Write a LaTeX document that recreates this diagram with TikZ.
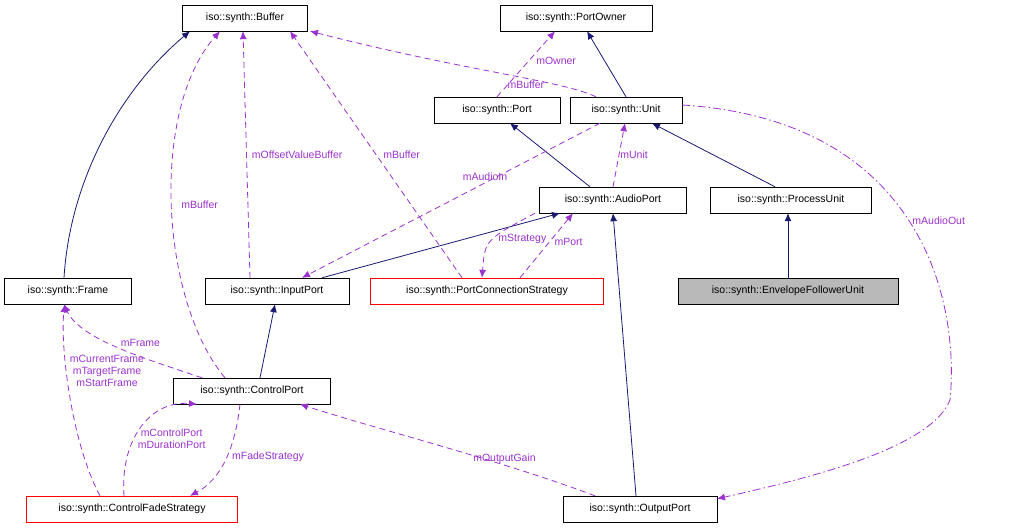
\documentclass[tikz,border=0pt]{standalone}
\usepackage{fontspec}
\setmainfont{Liberation Sans}
\usetikzlibrary{arrows.meta}
\definecolor{edgeblue}{HTML}{191970}
\definecolor{edgepurple}{HTML}{9A32CD}
\tikzset{
  cls/.style={draw,rectangle,minimum height=26pt,inner xsep=4pt,font=\fontsize{10.5}{12}\selectfont},
  usecls/.style={cls,draw=red},
  base/.style={edgeblue,line width=0.8pt,-{Latex[length=8pt,width=7pt]}},
  uses/.style={edgepurple,line width=0.8pt,dash pattern=on 6pt off 4pt,-{Latex[length=8pt,width=7pt]}},
  lbl/.style={font=\fontsize{10.5}{12}\selectfont,align=center,inner sep=1pt}
}
\begin{document}
\begin{tikzpicture}[x=1pt,y=-1pt]
\useasboundingbox (0,0) rectangle (1019,528);
% classes
\node[cls,minimum width=125pt] (buffer) at (245,18) {iso::synth::Buffer};
\node[cls,minimum width=152pt] (owner) at (576,18) {iso::synth::PortOwner};
\node[cls,minimum width=126pt] (port) at (497,110) {iso::synth::Port};
\node[cls,minimum width=112pt] (unit) at (626,110) {iso::synth::Unit};
\node[cls,minimum width=147pt] (audio) at (613,200) {iso::synth::AudioPort};
\node[cls,minimum width=161pt] (process) at (791,200) {iso::synth::ProcessUnit};
\node[cls,minimum width=127pt] (frame) at (68,291) {iso::synth::Frame};
\node[cls,minimum width=144pt] (input) at (277,291) {iso::synth::InputPort};
\node[usecls,minimum width=233pt] (strategy) at (487,291) {iso::synth::PortConnectionStrategy};
\node[cls,fill=gray!55,minimum width=220pt] (envelope) at (788,291) {iso::synth::EnvelopeFollowerUnit};
\node[cls,minimum width=157pt] (control) at (252,391) {iso::synth::ControlPort};
\node[usecls,minimum width=211pt] (fade) at (132,509) {iso::synth::ControlFadeStrategy};
\node[cls,minimum width=154pt] (output) at (640,509) {iso::synth::OutputPort};
% inheritance
\draw[base] ([xshift=-4pt]frame.north) .. controls (70,180) and (120,90) .. ([xshift=-55pt]buffer.south);
\draw[base] ([xshift=0pt]unit.north) -- ([xshift=11pt]owner.south);
\draw[base] ([xshift=-23pt]audio.north) -- ([xshift=13pt]port.south);
\draw[base] ([xshift=-16pt]process.north) -- ([xshift=26pt]unit.south);
\draw[base] ([xshift=0pt]envelope.north) -- ([xshift=-3pt]process.south);
\draw[base] ([xshift=45pt]input.north) -- ([xshift=-53pt]audio.south);
\draw[base] ([xshift=8pt]control.north) -- ([xshift=-2pt]input.south);
\draw[base] ([xshift=-4pt]output.north) -- ([xshift=0pt]audio.south);
% usage
\draw[uses] ([xshift=-30pt]unit.north) .. controls (560,80) and (470,72) .. node[lbl,pos=0.4,below=1pt] {mBuffer} ([xshift=65pt]buffer.south);
\draw[uses] (port.north) -- node[lbl,pos=0.55,right=6pt] {mOwner} ([xshift=-21pt]owner.south);
\draw[uses] (audio.north) -- node[lbl,right] {mUnit} ([xshift=-1pt]unit.south);
\draw[uses] ([xshift=-26pt]unit.south) -- node[lbl,pos=0.3,below left=2pt] {mAudioIn} ([xshift=25pt]input.north);
\draw[uses] ([xshift=-27pt]input.north) -- node[lbl,pos=0.5,right=4pt] {mOffsetValueBuffer} ([xshift=-2pt]buffer.south);
\draw[uses] ([xshift=-25pt]strategy.north) -- node[lbl,pos=0.5,right=6pt] {mBuffer} ([xshift=45pt]buffer.south);
\draw[uses] ([xshift=-78pt]audio.south) .. controls (485,240) .. node[lbl,pos=0.45,right=4pt] {mStrategy} ([xshift=-5pt]strategy.north);
\draw[uses] ([xshift=33pt]strategy.north) -- node[lbl,pos=0.55,right=4pt] {mPort} ([xshift=-40pt]audio.south);
\draw[uses] ([xshift=-27pt]control.north) .. controls (160,300) and (150,110) .. node[lbl,pos=0.5,right=8pt] {mBuffer} ([xshift=-25pt]buffer.south);
\draw[uses] ([xshift=-50pt]control.north) .. controls (150,360) and (80,340) .. node[lbl,pos=0.5,above right=0pt] {mFrame} ([xshift=-4pt]frame.south);
\draw[uses] ([xshift=-32pt]fade.north) .. controls (70,440) and (60,340) .. node[lbl,pos=0.6,right=2pt] {mCurrentFrame\\mTargetFrame\\mStartFrame} ([xshift=-3pt]frame.south);
\draw[uses] ([xshift=-8pt]fade.north) .. controls (120,440) and (150,400) .. node[lbl,pos=0.4,right=2pt] {mControlPort\\mDurationPort} ([xshift=-55pt]control.south);
\draw[uses] ([xshift=-12pt]control.south) .. controls (235,450) and (220,480) .. node[lbl,pos=0.45,right=4pt] {mFadeStrategy} ([xshift=58pt]fade.north);
\draw[uses] ([xshift=-45pt]output.north) .. controls (500,460) and (380,430) .. node[lbl,pos=0.3,above] {mOutputGain} ([xshift=48pt]control.south);
\draw[uses,dash pattern=on 8pt off 3pt on 1.5pt off 3pt] ([yshift=5pt]unit.east) .. controls (920,120) and (960,300) .. node[lbl,pos=0.5,right=2pt] {mAudioOut} (950,400) .. controls (930,450) and (800,480) .. ([xshift=77pt,yshift=-3pt]output.north);
\end{tikzpicture}
\end{document}
